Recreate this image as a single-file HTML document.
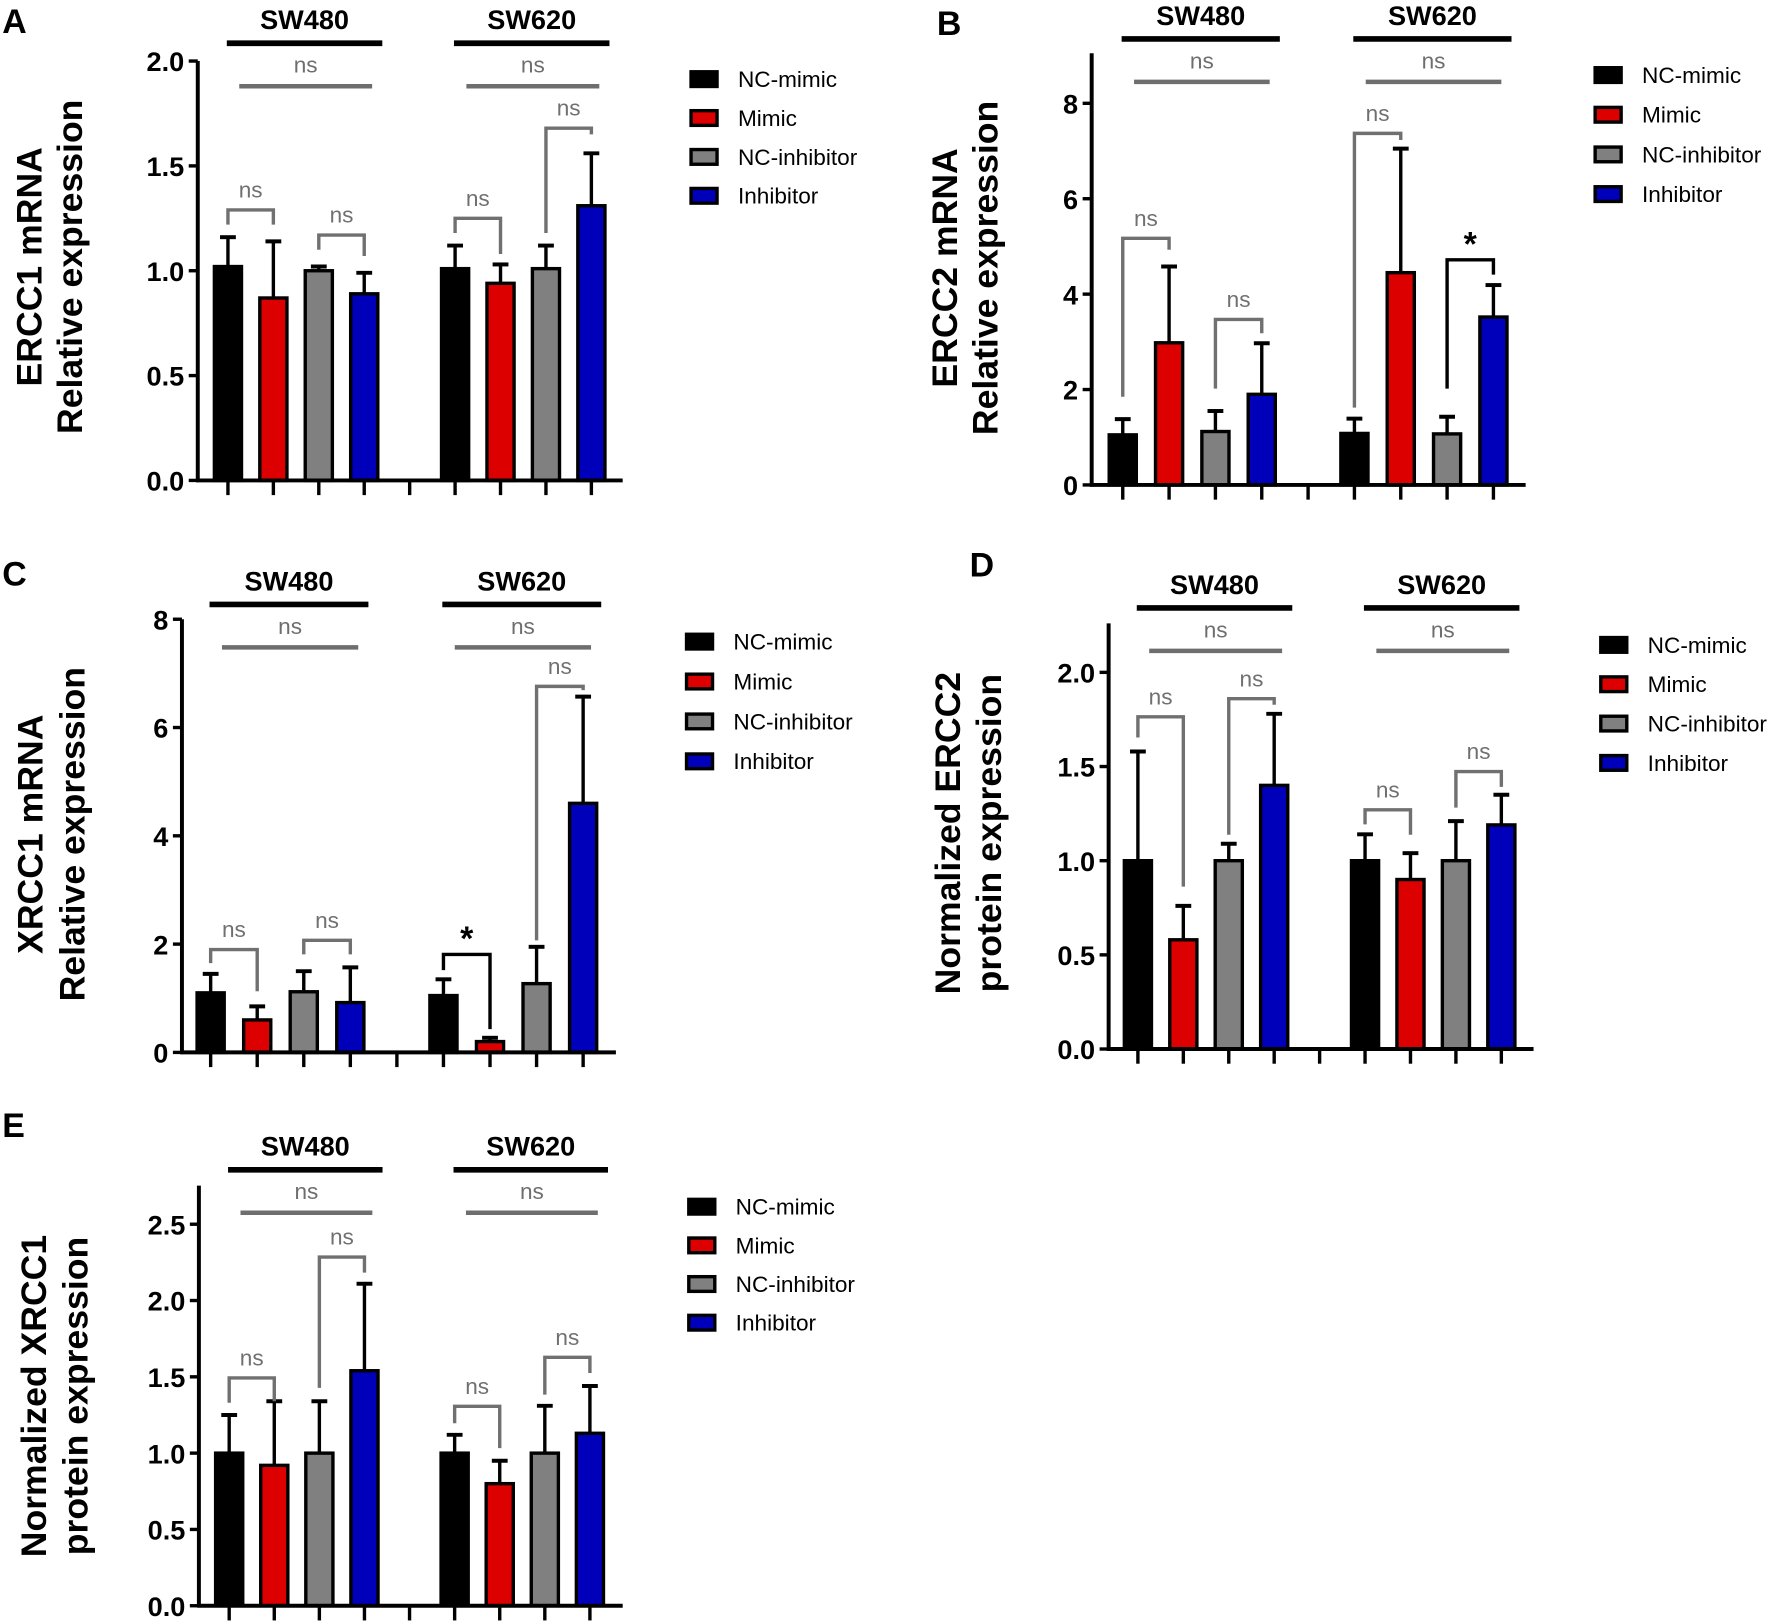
<!DOCTYPE html>
<html><head><meta charset="utf-8"><style>
html,body{margin:0;padding:0;background:#fff;}
svg{display:block;}
text{font-family:"Liberation Sans",Arial,sans-serif;}
</style></head><body>
<svg id="fig" width="1772" height="1621" viewBox="0 0 1568 1434" preserveAspectRatio="none" xmlns="http://www.w3.org/2000/svg"></svg>
<script>
// ---- data ----
const categories = ["NC-mimic","Mimic","NC-inhibitor","Inhibitor"];
const groups = ["SW480","SW620"];
const colors = ["#000000","#dd0000","#808080","#0000bb"];

const valuesA = [1.02,0.87,1.00,0.89, 1.01,0.94,1.01,1.31];
const errorsA = [1.16,1.14,1.02,0.99, 1.12,1.03,1.12,1.56];
const ticksA = [0,0.5,1.0,1.5,2.0];
const tickLabelsA = ["0.0","0.5","1.0","1.5","2.0"];

const valuesB = [1.05,2.98,1.12,1.90, 1.08,4.45,1.07,3.52];
const errorsB = [1.38,4.58,1.55,2.97, 1.39,7.05,1.43,4.19];
const ticksB = [0,2,4,6,8];
const tickLabelsB = ["0","2","4","6","8"];

const valuesC = [1.10,0.60,1.12,0.92, 1.05,0.20,1.27,4.60];
const errorsC = [1.45,0.85,1.50,1.57, 1.35,0.27,1.95,6.57];
const ticksC = [0,2,4,6,8];
const tickLabelsC = ["0","2","4","6","8"];

const valuesD = [1.00,0.58,1.00,1.40, 1.00,0.90,1.00,1.19];
const errorsD = [1.58,0.76,1.09,1.78, 1.14,1.04,1.21,1.35];
const ticksD = [0,0.5,1.0,1.5,2.0];
const tickLabelsD = ["0.0","0.5","1.0","1.5","2.0"];

const valuesE = [1.00,0.92,1.00,1.54, 1.00,0.80,1.00,1.13];
const errorsE = [1.25,1.34,1.34,2.11, 1.12,0.95,1.31,1.44];
const ticksE = [0,0.5,1.0,1.5,2.0,2.5];
const tickLabelsE = ["0.0","0.5","1.0","1.5","2.0","2.5"];

// brackets: [barIndexA, barIndexB, topValue, leftEndValue, rightEndValue, label]
const bracketsA = [[0,1,1.29,1.22,1.22,"ns"],[2,3,1.17,1.10,1.07,"ns"],[4,5,1.25,1.18,1.08,"ns"],[6,7,1.68,1.18,1.65,"ns"]];
const bracketsB = [[0,1,5.17,1.85,4.93,"ns"],[2,3,3.47,2.02,3.18,"ns"],[4,5,7.37,1.62,7.23,"ns"],[6,7,4.72,2.02,4.41,"*"]];
const bracketsC = [[0,1,1.90,1.65,1.13,"ns"],[2,3,2.07,1.81,1.81,"ns"],[4,5,1.81,1.52,0.43,"*"],[6,7,6.76,2.07,6.69,"ns"]];
const bracketsD = [[0,1,1.764,1.654,0.862,"ns"],[2,3,1.86,1.138,1.828,"ns"],[4,5,1.27,1.193,1.138,"ns"],[6,7,1.473,1.282,1.392,"ns"]];
const bracketsE = [[0,1,1.493,1.33,1.34,"ns"],[2,3,2.285,1.428,2.183,"ns"],[4,5,1.307,1.196,1.033,"ns"],[6,7,1.628,1.383,1.525,"ns"]];
const overallA = 1.88, overallB = 8.45, overallC = 7.48, overallD = 2.114, overallE = 2.575;
const axisTopA = 2.0, axisTopB = 9.05, axisTopC = 8, axisTopD = 2.26, axisTopE = 2.753;

// ---- layout ----
const panels = [
 {id:"a",letter:"A",lx:2,ly:29,title:["ERCC1 mRNA","Relative expression"],tx:[26,62],ty:236,
  axisX:175,axisEnd:551,y0:425,ppu:185.5,x0:201.7,step:40.2,legX:610,legY:70,legStep:34.4,
  vals:valuesA,errs:errorsA,ticks:ticksA,tl:tickLabelsA,br:bracketsA,ov:overallA,top:axisTopA},
 {id:"b",letter:"B",lx:829,ly:31,title:["ERCC2 mRNA","Relative expression"],tx:[836,872],ty:237,
  axisX:966,axisEnd:1350,y0:429,ppu:42.2,x0:993.5,step:41,legX:1410,legY:66.4,legStep:35.1,
  vals:valuesB,errs:errorsB,ticks:ticksB,tl:tickLabelsB,br:bracketsB,ov:overallB,top:axisTopB},
 {id:"c",letter:"C",lx:2,ly:518,title:["XRCC1 mRNA","Relative expression"],tx:[27,64],ty:738,
  axisX:161,axisEnd:545,y0:931,ppu:47.9,x0:186.4,step:41.2,legX:606,legY:567.6,legStep:35.3,
  vals:valuesC,errs:errorsC,ticks:ticksC,tl:tickLabelsC,br:bracketsC,ov:overallC,top:axisTopC},
 {id:"d",letter:"D",lx:858,ly:510,title:["Normalized ERCC2","protein expression"],tx:[839,875],ty:737,
  axisX:981,axisEnd:1357,y0:928,ppu:166.6,x0:1006.9,step:40.2,legX:1415,legY:570.5,legStep:34.8,
  vals:valuesD,errs:errorsD,ticks:ticksD,tl:tickLabelsD,br:bracketsD,ov:overallD,top:axisTopD},
 {id:"e",letter:"E",lx:2,ly:1006,title:["Normalized XRCC1","protein expression"],tx:[30,67],ty:1235,
  axisX:176,axisEnd:551,y0:1420.5,ppu:135,x0:202.8,step:39.9,legX:608,legY:1067.5,legStep:34.2,
  vals:valuesE,errs:errorsE,ticks:ticksE,tl:tickLabelsE,br:bracketsE,ov:overallE,top:axisTopE}
];

const NS="http://www.w3.org/2000/svg";
const svg=document.getElementById("fig");
function mk(tag,attrs,parent,txt){
  const e=document.createElementNS(NS,tag);
  for(const k in attrs) e.setAttribute(k,attrs[k]);
  if(txt!==undefined) e.textContent=txt;
  (parent||svg).appendChild(e);
  return e;
}

panels.forEach(p=>{
  const g=mk("g",{});
  
  
  const Y=v=>p.y0-v*p.ppu;
  const X=i=>p.x0+i*p.step;
  const barIdx=k=>k<4?k:k+1;

  const L=mk("text",{x:p.lx,y:p.ly,"font-size":30,"font-weight":"bold"},g,p.letter);
  
  

  p.title.forEach((t,i)=>{
    const tt=mk("text",{x:p.tx[i],y:p.ty,"font-size":31.5,"font-weight":"bold","text-anchor":"middle","dominant-baseline":"central",transform:`rotate(-90 ${p.tx[i]} ${p.ty})`},g,t);
    
    
  });

  const ya=mk("line",{x1:p.axisX,y1:Y(p.top),x2:p.axisX,y2:p.y0+1.5,stroke:"#000","stroke-width":3.5},g);
  
  
  p.ticks.forEach((v,i)=>{
    const tk=mk("line",{x1:p.axisX-8,y1:Y(v),x2:p.axisX,y2:Y(v),stroke:"#000","stroke-width":3},g);
    
    
    const tl=mk("text",{x:p.axisX-12,y:Y(v)+9,"font-size":24,"font-weight":"bold","text-anchor":"end"},g,p.tl[i]);
    
    
  });

  p.vals.forEach((v,k)=>{
    const cx=X(barIdx(k)), bw=24;
    const c=colors[k%4];
    const el=mk("line",{x1:cx,y1:Y(p.errs[k]),x2:cx,y2:Y(v),stroke:"#000","stroke-width":3},g);
    
    
    const ec=mk("line",{x1:cx-7,y1:Y(p.errs[k]),x2:cx+7,y2:Y(p.errs[k]),stroke:"#000","stroke-width":3.5},g);
    
    
    const b=mk("rect",{x:cx-bw/2,y:Y(v),width:bw,height:p.y0-Y(v),fill:c,stroke:"#000","stroke-width":3},g);
    
    
  });

  const xa=mk("line",{x1:p.axisX-1.5,y1:p.y0,x2:p.axisEnd,y2:p.y0,stroke:"#000","stroke-width":3.5},g);
  
  
  for(let i=0;i<9;i++){
    const t=mk("line",{x1:X(i),y1:p.y0,x2:X(i),y2:p.y0+13,stroke:"#000","stroke-width":3},g);
    
    
  }

  groups.forEach((gn,gi)=>{
    const a=X(gi*5), b=X(gi*5+3);
    const oy=Y(p.ov);
    const hl=mk("line",{x1:a-1,y1:oy-38,x2:b+16,y2:oy-38,stroke:"#000","stroke-width":5},g);
    
    
    const ht=mk("text",{x:(a+b+15)/2,y:oy-50.5,"font-size":24,"font-weight":"bold","text-anchor":"middle"},g,gn);
    
    
    const ol=mk("line",{x1:a+10,y1:oy,x2:b+7,y2:oy,stroke:"#6e6e6e","stroke-width":4},g);
    
    
    const ot=mk("text",{x:(a+b+17)/2,y:oy-12,"font-size":20,fill:"#6e6e6e","text-anchor":"middle"},g,"ns");
    
    
  });

  p.br.forEach(br=>{
    const xa_=X(barIdx(br[0])), xb=X(barIdx(br[1]));
    const star=br[5]==="*";
    const col=star?"#000":"#707070";
    const path=`M${xa_} ${Y(br[3])} L${xa_} ${Y(br[2])} L${xb} ${Y(br[2])} L${xb} ${Y(br[4])}`;
    const pb=mk("path",{d:path,fill:"none",stroke:col,"stroke-width":3},g);
    
    
    const t=mk("text",{x:(xa_+xb)/2,y:Y(br[2])-(star?4:11),"font-size":star?30:20,"font-weight":star?"bold":"normal",fill:col,"text-anchor":"middle"},g,br[5]);
    
    
  });

  categories.forEach((c,i)=>{
    const y=p.legY+i*p.legStep;
    const sq=mk("rect",{x:p.legX+1.5,y:y-6.5,width:23,height:13,fill:colors[i],stroke:"#000","stroke-width":3},g);
    
    
    const lt=mk("text",{x:p.legX+43,y:y+7,"font-size":20},g,c);
    
    
  });
});
</script>
</body></html>
